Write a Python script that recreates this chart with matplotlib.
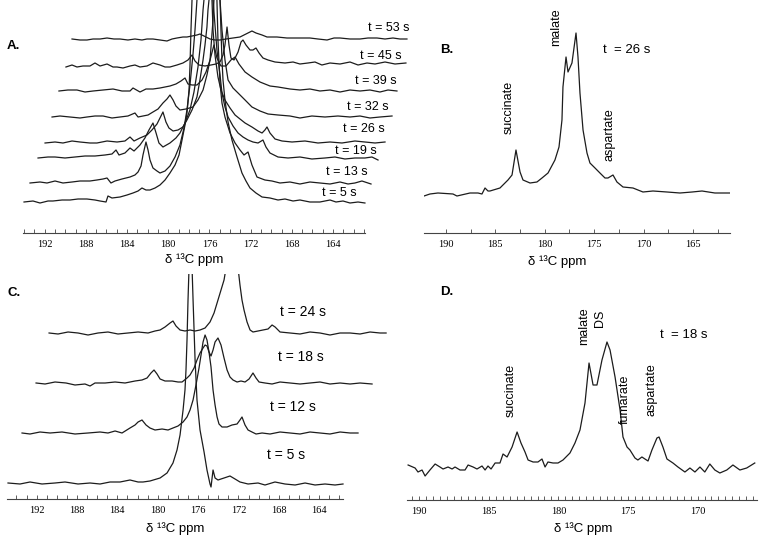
import numpy as np
import matplotlib
matplotlib.use("Agg")
import matplotlib.pyplot as plt
from matplotlib.ticker import FixedLocator

plt.rcParams["font.family"] = ["Liberation Sans", "DejaVu Sans"]

# ---- panel A: stacked spectra (ppm, intensity above each trace's baseline)
a05_ppm = [194.00,193.13,192.45,191.67,191.19,190.31,189.54,188.76,187.89,187.11,186.62,186.04,185.85,185.46,184.68,184.00,183.42,182.93,182.55,182.16,181.77,181.28,180.80,180.31,179.83,179.34,178.95,178.66,178.37,178.18,177.98,177.89,177.79,177.69,176.33,174.97,174.88,174.78,174.68,174.49,174.19,173.81,173.32,172.84,172.45,172.06,171.48,170.89,170.12,169.34,168.66,167.88,167.21,166.24,165.27,164.29,163.71,163.03,162.35,161.57,160.90]
a05_int = [0,1,-1,1,1,2,2,3,3,2,1,0,6,4,5,7,9,11,14,12,12,14,17,22,29,37,47,62,77,89,112,135,172,202,700,202,172,142,122,102,80,62,45,29,21,14,9,5,4,2,3,1,2,0,0,2,0,1,-1,0,-1]
a13_ppm = [193.42,192.45,191.77,190.99,190.22,189.34,188.57,187.60,186.92,186.33,185.94,185.56,185.17,184.49,183.71,183.23,182.93,182.64,182.45,182.16,181.96,181.77,181.48,181.09,180.80,180.31,179.83,179.34,178.86,178.47,178.18,177.89,177.60,177.40,177.21,176.24,175.27,175.17,174.97,174.78,174.49,174.00,173.51,173.03,172.64,172.25,171.87,171.38,170.61,169.93,169.15,168.18,167.21,166.24,165.27,164.29,163.32,162.54,161.87,161.19,160.31]
a13_int = [0,1,0,2,0,1,2,2,3,4,5,0,2,4,6,8,11,17,28,41,33,23,15,12,10,12,17,26,38,55,73,98,128,153,183,700,183,143,100,80,66,50,40,33,28,31,18,6,3,2,0,1,-1,1,0,-1,1,-1,0,2,-1]
a19_ppm = [192.64,191.67,190.99,190.02,189.05,188.08,187.11,186.14,185.46,185.07,184.78,184.20,183.71,183.32,182.74,182.26,181.87,181.48,181.18,180.90,180.51,179.83,179.25,178.86,178.37,177.89,177.50,177.11,176.82,176.62,176.53,176.04,175.65,175.46,175.27,174.97,174.78,174.49,174.19,173.71,173.22,172.74,172.25,171.77,171.28,170.80,170.51,170.12,169.34,168.37,167.21,166.05,164.78,163.81,162.84,161.87,160.90,160.22,159.63]
a19_int = [0,1,1,0,1,2,2,3,4,8,3,5,10,7,13,20,28,35,25,15,11,15,20,25,35,48,66,91,118,148,158,600,158,133,108,83,65,51,41,32,25,21,18,16,15,18,11,5,1,0,1,-1,0,1,-1,0,0,1,-2]
a26_ppm = [191.96,190.99,190.22,189.34,188.57,187.60,186.92,185.94,184.97,184.20,183.71,183.32,182.74,182.06,181.58,181.09,180.80,180.51,180.22,179.93,179.53,179.05,178.57,178.18,177.69,177.21,176.92,176.62,176.43,176.24,176.14,176.04,175.85,175.75,175.65,175.46,175.17,174.88,174.49,174.00,173.51,173.03,172.54,171.87,171.28,170.89,170.61,170.41,170.12,169.63,168.95,167.98,166.72,165.46,164.29,163.13,161.87,160.90,159.92,158.95]
a26_int = [-1,0,-1,1,0,-1,-1,1,0,1,5,1,4,7,12,18,24,30,20,14,11,12,15,22,32,45,62,82,97,115,132,142,300,142,112,87,65,52,42,34,27,23,19,15,11,9,12,15,9,3,1,0,1,-1,0,-1,1,0,-1,0]
a32_ppm = [191.28,190.51,189.54,188.57,187.89,187.11,186.33,185.46,184.68,183.91,183.23,182.93,182.45,181.96,181.48,180.99,180.51,180.12,179.83,179.53,179.25,178.86,178.28,177.60,177.11,176.62,176.24,175.94,175.65,175.56,175.27,174.97,174.78,174.49,174.19,173.71,173.22,172.54,171.87,171.09,170.31,169.34,168.18,167.21,166.05,164.78,163.52,162.35,161.38,160.41,159.44,158.27]
a32_int = [0,1,0,-1,0,1,1,-1,0,1,4,0,1,2,5,8,14,18,22,17,11,7,8,10,17,27,42,57,97,117,147,117,87,57,37,29,24,17,10,6,3,2,1,-1,1,0,1,0,1,-1,0,1]
a39_ppm = [190.61,189.74,188.86,188.08,187.30,186.33,185.36,184.49,183.71,183.42,182.74,182.16,181.48,180.80,179.83,179.25,178.76,178.37,178.08,177.69,177.21,176.72,176.33,175.94,175.56,175.27,174.88,174.39,173.91,173.51,173.13,172.54,171.87,171.09,170.12,169.34,168.18,167.21,166.24,165.27,164.29,163.32,162.35,161.38,160.41,159.44,158.66,157.79]
a39_int = [0,1,1,-1,0,1,2,0,0,3,-1,2,2,3,5,7,10,13,7,6,6,11,19,31,46,33,25,25,31,34,27,19,14,9,5,4,2,1,2,0,1,-1,1,0,1,-1,1,0]
a45_ppm = [189.93,189.34,188.86,188.28,187.60,187.11,186.62,185.94,185.36,184.97,184.39,183.71,183.23,182.74,182.06,181.48,180.80,180.31,179.83,179.15,178.57,178.08,177.69,177.40,177.01,176.43,175.85,175.36,174.97,174.68,174.49,174.29,174.10,173.91,173.61,173.22,172.93,172.74,172.45,172.06,171.77,171.48,171.18,170.80,170.31,169.63,168.66,167.88,167.21,166.43,165.75,165.08,164.29,163.32,162.35,161.57,160.70,159.92,158.95,157.98,156.92]
a45_int = [0,2,0,1,1,4,1,3,0,0,-1,1,2,0,1,4,2,0,0,2,4,7,12,6,2,1,2,3,5,12,22,40,22,9,7,15,25,27,22,17,17,19,14,9,7,5,4,5,3,4,5,2,4,3,5,2,4,3,5,3,4]
a53_ppm = [189.34,188.57,187.89,187.30,186.62,185.94,185.27,184.68,183.91,183.23,182.55,182.06,181.48,180.80,180.12,179.63,179.15,178.57,178.18,177.69,177.21,176.92,176.53,175.94,175.46,174.97,174.39,173.71,173.03,172.45,171.87,171.48,170.89,170.41,169.44,168.47,167.40,166.24,165.46,164.58,163.90,163.32,162.35,161.38,160.60,159.73,158.95,158.18,157.50,156.82]
a53_int = [0,-1,-1,0,0,1,0,0,-1,0,-1,0,0,-1,-2,0,1,2,2,3,4,5,3,0,-1,-1,0,1,2,5,8,6,4,2,2,1,1,1,0,-1,1,1,0,0,1,1,0,1,0,0]
a_times = ["t = 5 s", "t = 13 s", "t = 19 s", "t = 26 s", "t = 32 s", "t = 39 s", "t = 45 s", "t = 53 s"]

# ---- panel B: single spectrum at t = 26 s
b_ppm = [192.21,191.61,190.80,189.28,188.88,187.56,186.75,186.35,186.04,185.74,185.54,184.53,183.72,183.31,182.91,182.50,182.20,181.49,180.79,180.28,179.67,178.97,178.56,178.26,178.16,177.85,177.65,177.25,176.84,176.64,176.44,176.13,175.73,175.43,174.92,174.42,173.91,173.61,173.10,172.70,172.09,171.08,170.07,169.06,167.64,166.33,165.10,164.10,162.80,161.27]
b_int = [37,39,40,39,37,40,40,39,45,42,42,45,53,58,83,61,53,50,51,55,60,73,86,113,146,176,161,170,200,176,140,103,80,70,65,60,55,55,58,51,46,45,41,42,41,40,41,42,40,40]

# ---- panel C: stacked spectra
c05_ppm = [194.84,193.65,192.66,191.47,190.18,189.19,187.90,186.71,185.72,184.73,183.74,182.75,181.95,181.46,180.77,179.77,179.08,178.49,178.09,177.79,177.49,177.30,177.20,177.10,177.00,176.90,176.75,176.60,176.50,176.40,176.30,176.11,175.81,175.41,175.12,174.82,174.72,174.52,174.32,174.03,173.43,172.84,172.34,171.85,171.05,170.06,169.37,168.38,167.39,166.39,165.40,164.41,163.42,162.43,161.64]
c05_int = [0,-1,1,-1,0,1,-1,0,-1,1,1,3,1,1,2,5,10,20,33,48,73,93,113,143,183,215,600,215,183,153,123,83,53,31,13,-1,-4,13,5,3,5,7,4,1,-1,0,-2,1,-1,-2,0,-2,-1,-2,-1]
c12_ppm = [193.45,192.66,191.67,190.67,189.49,188.20,186.91,185.72,184.93,184.23,183.54,182.75,182.25,181.95,181.56,181.16,180.77,180.27,179.57,178.98,178.49,177.99,177.49,177.10,176.80,176.50,176.21,175.91,175.71,175.51,175.31,175.12,174.92,174.72,174.52,174.32,174.12,173.93,173.63,173.13,172.64,172.14,171.85,171.65,171.35,171.05,170.66,170.26,169.66,168.87,167.88,166.89,165.90,164.91,163.92,162.93,161.93,160.94,160.15]
c12_int = [0,-1,1,0,1,-1,0,1,0,2,0,5,8,11,13,8,5,3,4,3,5,7,11,16,23,33,48,65,78,91,98,93,81,66,43,28,16,9,6,6,8,9,13,16,8,3,1,-1,0,-1,1,0,-1,1,0,-1,1,0,0]
c18_ppm = [192.06,191.17,190.18,189.09,188.20,187.21,186.71,186.22,185.22,184.23,183.24,182.25,181.56,181.06,180.67,180.37,180.07,179.77,179.28,178.58,177.99,177.59,177.10,176.80,176.40,176.11,175.81,175.51,175.31,175.12,174.92,174.72,174.52,174.32,174.03,173.73,173.43,173.13,172.84,172.54,172.14,171.75,171.35,170.95,170.56,170.26,169.96,169.37,168.67,167.88,166.89,165.90,164.91,163.92,162.93,161.93,160.94,159.95,158.76]
c18_int = [0,-1,1,0,-2,-1,-3,0,0,1,0,2,3,5,10,13,9,4,2,2,1,1,5,8,15,23,30,35,38,37,31,27,33,41,45,38,25,13,6,3,1,2,1,4,10,5,1,0,-1,1,0,-1,0,1,-1,0,-1,0,-1]
c24_ppm = [190.77,189.88,188.89,187.90,186.91,185.92,184.93,183.94,182.95,181.95,180.96,180.27,179.77,179.28,178.78,178.49,178.19,177.79,177.30,176.80,176.30,175.81,175.31,174.82,174.42,174.03,173.73,173.43,173.23,172.64,172.04,171.85,171.65,171.45,171.15,170.85,170.56,170.06,169.57,169.07,168.67,168.37,167.88,166.89,165.90,164.91,163.92,162.93,161.93,160.94,159.95,158.96,157.97,157.37]
c24_int = [0,-1,1,0,-2,0,1,-1,0,1,0,2,3,6,10,12,7,3,2,3,2,3,5,11,20,33,43,53,65,110,65,48,33,23,11,3,1,2,3,4,8,6,1,0,-1,1,0,-2,0,0,-1,1,0,0]
c_times = ["t = 5 s", "t = 12 s", "t = 18 s", "t = 24 s"]

# ---- panel D: single spectrum at t = 18 s
d_ppm = [190.80,190.30,190.09,189.80,189.58,189.23,188.86,188.51,188.29,187.93,187.64,187.43,187.07,186.71,186.49,186.13,185.85,185.49,185.27,185.06,184.84,184.55,184.20,183.98,183.69,183.33,182.97,182.69,182.40,182.18,181.82,181.47,181.18,180.96,180.75,180.39,180.03,179.67,179.17,178.81,178.45,178.09,177.80,177.51,177.23,176.87,176.51,176.29,175.93,175.57,175.36,175.07,174.86,174.50,174.29,174.00,173.78,173.56,173.28,172.92,172.77,172.49,172.20,171.77,171.41,170.91,170.55,170.19,169.83,169.48,169.12,168.76,168.40,167.90,167.46,166.96,166.47,165.89]
d_int = [35,32,28,30,24,30,36,33,31,33,31,33,30,30,35,33,31,34,30,34,31,37,37,46,43,53,68,57,48,40,38,38,41,33,38,37,37,40,47,57,70,97,137,115,115,140,158,150,123,90,63,53,50,42,40,43,41,39,50,62,63,53,41,37,33,28,32,28,33,28,36,30,27,30,35,30,32,37]

W, H = 762, 544
fig = plt.figure(figsize=(W / 100, H / 100), dpi=100)
LINE = "#1c1c1c"


def rect(x0, x1, ytop, ybot):
    return [x0 / W, 1 - ybot / H, (x1 - x0) / W, (ybot - ytop) / H]


def ftext(x, y, s, **kw):
    fig.text(x / W, 1 - y / H, s, **kw)


def spec_axes(r, xlim, ylim, bounds, major, minor):
    ax = fig.add_axes(r)
    ax.patch.set_visible(False)
    ax.set_xlim(*xlim)
    ax.set_ylim(*ylim)
    for s in ("left", "right", "top"):
        ax.spines[s].set_visible(False)
    ax.spines["bottom"].set_bounds(*bounds)
    ax.spines["bottom"].set_linewidth(0.8)
    ax.spines["bottom"].set_color("#444444")
    ax.set_yticks([])
    ax.xaxis.set_major_locator(FixedLocator(major))
    ax.xaxis.set_minor_locator(FixedLocator(minor))
    ax.set_xticklabels([str(m) for m in major])
    ax.tick_params(axis="x", which="both", direction="in", length=3, width=0.6,
                   color="#444444", pad=5, labelsize=7.5)
    for lab in ax.get_xticklabels():
        lab.set_fontfamily("Liberation Serif")
    return ax


# A
axA = spec_axes(rect(23, 412, 0, 233), (194.1, 156.33), (0, 233), (194.1, 160.9),
                [192, 188, 184, 180, 176, 172, 168, 164], np.arange(161, 195))
a_base = [31, 50, 75, 91, 116, 142, 166, 194]
a_sets = [(a05_ppm, a05_int), (a13_ppm, a13_int), (a19_ppm, a19_int), (a26_ppm, a26_int),
          (a32_ppm, a32_int), (a39_ppm, a39_int), (a45_ppm, a45_int), (a53_ppm, a53_int)]
for (p, v), b in zip(a_sets, a_base):
    axA.plot(p, np.array(v) + b, color=LINE, lw=0.9)
a_lab = [(322, 193), (326, 172), (335, 151), (343, 129), (347, 107), (355, 81), (360, 56), (368, 28)]
for s, (x, y) in zip(a_times, a_lab):
    ftext(x, y, s, fontsize=9, ha="left", va="center")
ftext(7, 46, "A.", fontsize=9.5, fontweight="bold", ha="left", va="center")
ftext(194, 260, "δ ¹³C ppm", fontsize=9.5, ha="center", va="center")

# B
axB = spec_axes(rect(424, 730, 0, 233), (192.21, 161.27), (0, 233), (192.21, 161.27),
                [190, 185, 180, 175, 170, 165], np.arange(162.5, 192.1, 2.5))
axB.plot(b_ppm, b_int, color=LINE, lw=0.9)
ftext(440, 50, "B.", fontsize=9.5, fontweight="bold", ha="left", va="center")
ftext(603, 50, "t  = 26 s", fontsize=9.5, ha="left", va="center")
ftext(556, 27, "malate", fontsize=9, rotation=90, ha="center", va="center")
ftext(509, 107, "succinate", fontsize=9, rotation=90, ha="center", va="center")
ftext(609, 135, "aspartate", fontsize=9, rotation=90, ha="center", va="center")
ftext(557, 262, "δ ¹³C ppm", fontsize=9.5, ha="center", va="center")

# C
axC = spec_axes(rect(7, 388, 274, 499), (194.94, 157.18), (0, 225), (194.94, 161.6),
                [192, 188, 184, 180, 176, 172, 168, 164], np.arange(162, 195))
c_base = [16, 66, 116, 166]
c_sets = [(c05_ppm, c05_int), (c12_ppm, c12_int), (c18_ppm, c18_int), (c24_ppm, c24_int)]
for (p, v), b in zip(c_sets, c_base):
    axC.plot(p, np.array(v) + b, color=LINE, lw=0.9)
c_lab = [(267, 455), (270, 407), (278, 357), (280, 312)]
for s, (x, y) in zip(c_times, c_lab):
    ftext(x, y, s, fontsize=10, ha="left", va="center")
ftext(7, 293, "C.", fontsize=9.5, fontweight="bold", ha="left", va="center")
ftext(175, 529, "δ ¹³C ppm", fontsize=9.5, ha="center", va="center")

# D
axD = spec_axes(rect(407, 757, 270, 500), (190.88, 165.73), (0, 230), (190.88, 165.73),
                [190, 185, 180, 175, 170], np.arange(166, 190.9, 0.5))
axD.plot(d_ppm, d_int, color=LINE, lw=0.9)
ftext(440, 292, "D.", fontsize=9.5, fontweight="bold", ha="left", va="center")
ftext(660, 335, "t  = 18 s", fontsize=9.5, ha="left", va="center")
ftext(584, 326, "malate", fontsize=9, rotation=90, ha="center", va="center")
ftext(600, 318, "DS", fontsize=9, rotation=90, ha="center", va="center")
ftext(511, 390, "succinate", fontsize=9, rotation=90, ha="center", va="center")
ftext(625, 399, "fumarate", fontsize=9, rotation=90, ha="center", va="center")
ftext(652, 390, "aspartate", fontsize=9, rotation=90, ha="center", va="center")
ftext(583, 529, "δ ¹³C ppm", fontsize=9.5, ha="center", va="center")

fig.savefig("out.png", dpi=100)
